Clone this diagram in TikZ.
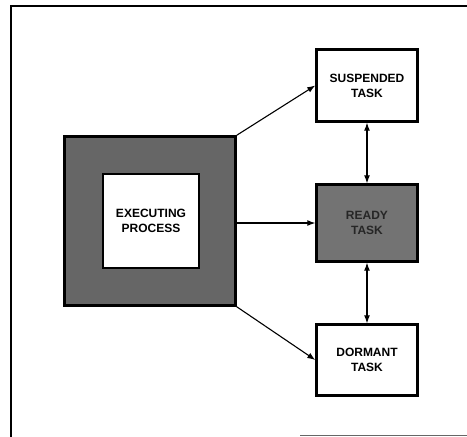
\documentclass[tikz,border=0pt]{standalone}
\usepackage{fontspec}
\setmainfont{Liberation Sans}
\usetikzlibrary{arrows.meta,positioning,shapes}

\begin{document}
\begin{tikzpicture}[x=1pt,y=-1pt,
  >={Latex[length=8pt,width=6pt]},
  taskbox/.style={draw,line width=2.4pt,minimum width=101pt,align=center,
    font=\fontsize{12}{15}\selectfont\bfseries},
  link/.style={line width=1.1pt}]
\useasboundingbox (0,0) rectangle (467,437);
% frame
\draw[line width=2.4pt] (11,437) -- (11,6) -- (467,6);
\draw[line width=1pt,black!60] (300,435) -- (467,435);
% executing process
\node[draw,line width=2.6pt,fill=black!60,minimum width=171pt,minimum height=169pt] (exec) at (150,221) {};
\node[draw,line width=2pt,fill=white,minimum width=96pt,minimum height=94pt,align=center,
  font=\fontsize{12}{15}\selectfont\bfseries] (proc) at (151,221) {EXECUTING\\PROCESS};
% tasks
\node[taskbox,minimum height=72pt] (susp) at (367,85.5) {SUSPENDED\\TASK};
\node[taskbox,minimum height=77pt,fill=black!55,text=black!85] (ready) at (367,223) {READY\\TASK};
\node[taskbox,minimum height=71pt] (dorm) at (367,360) {DORMANT\\TASK};
% transitions
\draw[->,link] (exec.north east) -- (susp.west);
\draw[->,link] (exec.east |- ready.west) -- (ready.west);
\draw[->,link] (exec.south east) -- (dorm.west);
\draw[<->,link] (susp.south) -- (ready.north);
\draw[<->,link] (ready.south) -- (dorm.north);
\end{tikzpicture}
\end{document}
